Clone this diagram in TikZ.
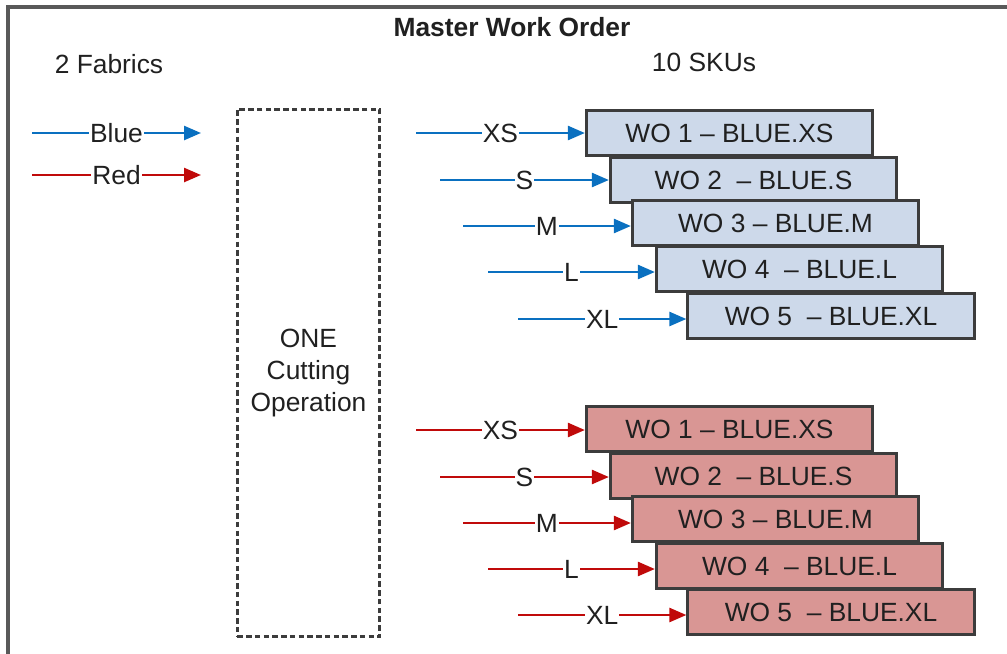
\documentclass[tikz,border=0pt]{standalone}
\usepackage{fontspec}
\setmainfont{Liberation Sans}
\usetikzlibrary{arrows.meta,positioning}
\definecolor{boxblue}{RGB}{205,217,234}
\definecolor{boxred}{RGB}{217,150,148}
\definecolor{feedblue}{RGB}{10,112,192}
\definecolor{feedred}{RGB}{192,10,10}
\definecolor{edgegray}{RGB}{60,60,60}
\definecolor{inkgray}{RGB}{32,32,32}

\begin{document}
\begin{tikzpicture}[
    x=0.2mm, y=-0.2mm,
    every node/.style={font=\fontsize{15}{18}\selectfont, text=inkgray},
    wobox/.style={rectangle, draw=edgegray, line width=0.55mm, minimum width=57.3mm, minimum height=9.1mm, inner sep=0pt},
    bluebox/.style={wobox, fill=boxblue},
    redbox/.style={wobox, fill=boxred},
    feed/.style={line width=0.5mm, -{Triangle[length=3.4mm, width=2.8mm]}},
    sizelbl/.style={fill=white, inner sep=0.5pt},
    cutbox/.style={rectangle, draw=edgegray, line width=0.55mm, dash pattern=on 1.1mm off 0.65mm, minimum width=28.5mm, minimum height=105.5mm, align=center}
  ]
    \useasboundingbox (0,0) rectangle (1007,653);
    \clip (0,0) rectangle (1007,653);
    % outer frame, cut off at right and bottom
    \draw[line width=0.8mm, draw=edgegray!85] (8,670) -- (8,7) -- (1020,7);

    \node[font=\fontsize{15}{18}\selectfont\bfseries] (title) at (512,27) {Master Work Order};
    \node (fabrics) at (109,64) {2 Fabrics};
    \node (skus) at (704,62) {10 SKUs};

    % fabrics in
    \coordinate (blueIn) at (32,133);
    \coordinate (blueOut) at (201,133);
    \coordinate (redIn) at (32,175);
    \coordinate (redOut) at (201,175);
    \draw[feed, feedblue] (blueIn) -- node[sizelbl] {Blue} (blueOut);
    \draw[feed, feedred] (redIn) -- node[sizelbl] {Red} (redOut);

    \node[cutbox] (cut) at (308.5,373) {ONE\\Cutting\\Operation};

    % blue work orders
    \node[bluebox] (b1) at (729.5,133) {WO 1 \textendash\ BLUE.XS};
    \node[bluebox] (b2) at (753.5,180) {WO 2~ \textendash\ BLUE.S};
    \node[bluebox] (b3) at (775.5,223) {WO 3 \textendash\ BLUE.M};
    \node[bluebox] (b4) at (799.5,269) {WO 4~ \textendash\ BLUE.L};
    \node[bluebox] (b5) at (831,316) {WO 5~ \textendash\ BLUE.XL};

    \coordinate (bs1) at (416,133);
    \coordinate (bs2) at (440,180);
    \coordinate (bs3) at (463,226);
    \coordinate (bs4) at (488,272);
    \coordinate (bs5) at (518,319);
    \draw[feed, feedblue] (bs1) -- node[sizelbl] {XS} (bs1 -| b1.west);
    \draw[feed, feedblue] (bs2) -- node[sizelbl] {S} (bs2 -| b2.west);
    \draw[feed, feedblue] (bs3) -- node[sizelbl] {M} (bs3 -| b3.west);
    \draw[feed, feedblue] (bs4) -- node[sizelbl] {L} (bs4 -| b4.west);
    \draw[feed, feedblue] (bs5) -- node[sizelbl] {XL} (bs5 -| b5.west);

    % red work orders
    \node[redbox] (r1) at (729.5,429) {WO 1 \textendash\ BLUE.XS};
    \node[redbox] (r2) at (753.5,476) {WO 2~ \textendash\ BLUE.S};
    \node[redbox] (r3) at (775.5,519) {WO 3 \textendash\ BLUE.M};
    \node[redbox] (r4) at (799.5,566) {WO 4~ \textendash\ BLUE.L};
    \node[redbox] (r5) at (831,612) {WO 5~ \textendash\ BLUE.XL};

    \coordinate (rs1) at (416,430);
    \coordinate (rs2) at (440,477);
    \coordinate (rs3) at (463,523);
    \coordinate (rs4) at (488,569);
    \coordinate (rs5) at (518,615);
    \draw[feed, feedred] (rs1) -- node[sizelbl] {XS} (rs1 -| r1.west);
    \draw[feed, feedred] (rs2) -- node[sizelbl] {S} (rs2 -| r2.west);
    \draw[feed, feedred] (rs3) -- node[sizelbl] {M} (rs3 -| r3.west);
    \draw[feed, feedred] (rs4) -- node[sizelbl] {L} (rs4 -| r4.west);
    \draw[feed, feedred] (rs5) -- node[sizelbl] {XL} (rs5 -| r5.west);
  \end{tikzpicture}
\end{document}
